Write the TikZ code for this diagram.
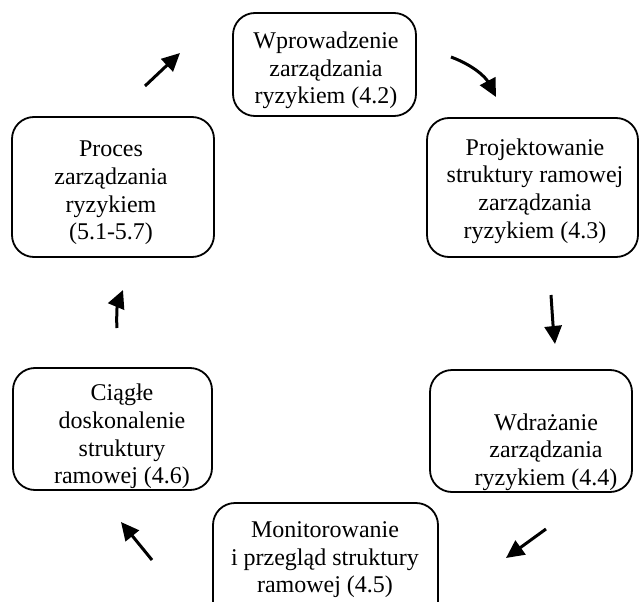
\documentclass[tikz,border=0pt]{standalone}
\usepackage{fontspec}
\setmainfont{Liberation Serif}
\usetikzlibrary{arrows.meta}
\begin{document}
\begin{tikzpicture}[x=1pt,y=-1pt,
  box/.style={draw,line width=1.8pt,rounded corners=22pt,inner sep=0pt},
  txt/.style={align=center,inner sep=0pt,font=\fontsize{24}{27.6}\selectfont},
  arr/.style={line width=3pt,-{Triangle[length=18pt,width=17pt]}}]
\path[use as bounding box] (0,0) rectangle (640,602);
\clip (0,0) rectangle (640,602);
% boxes
\node[box,minimum width=183pt,minimum height=103pt] (b1) at (324.5,64.5) {};
\node[box,minimum width=211pt,minimum height=139pt] (b2) at (532.5,187.5) {};
\node[box,minimum width=202pt,minimum height=122pt] (b3) at (531,431) {};
\node[box,minimum width=225pt,minimum height=140pt] (b4) at (325.5,573) {};
\node[box,minimum width=199pt,minimum height=122pt] (b5) at (112.5,429) {};
\node[box,minimum width=202pt,minimum height=140pt] (b6) at (113,187) {};
% texts
\node[txt] (t1) at (326,70.5) {Wprowadzenie\\zarządzania\\ryzykiem (4.2)};
\node[txt] (t2) at (535,191) {Projektowanie\\struktury ramowej\\zarządzania\\ryzykiem (4.3)};
\node[txt] (t3) at (546,452) {Wdrażanie\\zarządzania\\ryzykiem (4.4)};
\node[txt] (t4) at (325,560) {Monitorowanie\\i przegląd struktury\\ramowej (4.5)};
\node[txt] (t5) at (122,436.5) {Ciągłe\\doskonalenie\\struktury\\ramowej (4.6)};
\node[txt] (t6) at (111,193) {Proces\\zarządzania\\ryzykiem\\(5.1-5.7)};
% arrows
\coordinate (a1s) at (145,86); \coordinate (a1e) at (180,53);
\coordinate (a2s) at (451,57); \coordinate (a2e) at (496,97);
\coordinate (a3s) at (551,295); \coordinate (a3e) at (555,344);
\coordinate (a4s) at (546,529); \coordinate (a4e) at (506,558);
\coordinate (a5s) at (152,560); \coordinate (a5e) at (121,522);
\coordinate (a6s) at (117,328); \coordinate (a6e) at (123,290);
\draw[arr] (a1s) -- (a1e);
\draw[arr] (a2s) .. controls (475,66) and (486,78) .. (a2e);
\draw[arr] (a3s) .. controls (552,310) and (553,325) .. (a3e);
\draw[arr] (a4s) -- (a4e);
\draw[arr] (a5s) -- (a5e);
\draw[arr] (a6s) .. controls (116,315) and (118,302) .. (a6e);
\end{tikzpicture}
\end{document}
